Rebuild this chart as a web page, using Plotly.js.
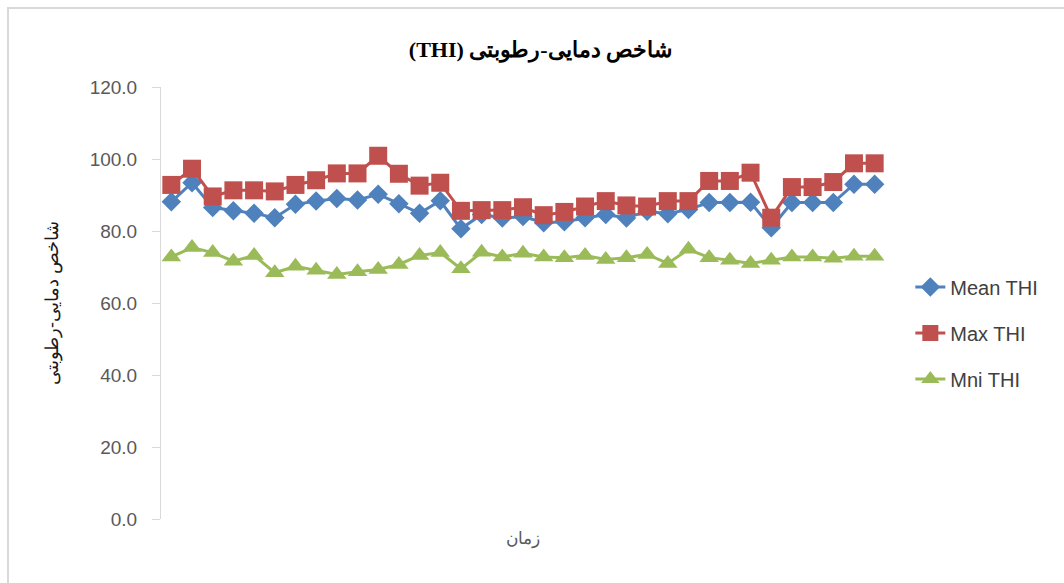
<!DOCTYPE html>
<html>
<head>
<meta charset="utf-8">
<script src="https://cdn.plot.ly/plotly-3.0.1.min.js"></script>
<style>
html,body{margin:0;padding:0;background:#fff;}
#wrap{position:relative;width:1064px;height:583px;overflow:hidden;}
#chart{position:absolute;left:0;top:0;width:1064px;height:583px;}
#frame{position:absolute;left:7px;top:7px;width:1200px;height:700px;border:2px solid #d9d9d9;box-sizing:border-box;pointer-events:none;}
</style>
</head>
<body>
<div id="wrap"><div id="chart"></div><div id="frame"></div></div>
<script>
const days = ["1","2","3","4","5","6","7","8","9","10","11","12","13","14","15","16","17","18","19","20","21","22","23","24","25","26","27","28","29","30","31","32","33","34","35"];
const meanTHI = [88.1, 93.4, 86.5, 85.6, 84.9, 83.7, 87.4, 88.3, 89.0, 88.6, 90.2, 87.6, 84.9, 88.4, 80.6, 84.6, 83.6, 84.0, 82.3, 82.6, 83.7, 84.6, 83.6, 85.5, 84.8, 86.0, 87.9, 87.9, 88.0, 80.9, 87.9, 87.9, 87.9, 93.0, 93.0];
const maxTHI = [92.8, 97.3, 89.6, 91.3, 91.3, 91.0, 92.8, 94.1, 96.0, 96.0, 100.9, 95.9, 92.6, 93.4, 85.6, 85.8, 85.8, 86.6, 84.4, 85.3, 86.8, 88.3, 87.1, 86.8, 88.3, 88.3, 93.9, 93.9, 96.2, 83.7, 92.2, 92.2, 93.6, 98.8, 98.8];
const minTHI = [72.8, 75.4, 74.0, 71.6, 73.2, 68.4, 70.2, 69.1, 67.9, 68.7, 69.3, 70.7, 73.2, 74.0, 69.5, 74.1, 72.8, 73.8, 72.8, 72.6, 73.2, 72.1, 72.6, 73.5, 71.0, 74.9, 72.6, 71.9, 71.0, 71.9, 72.8, 72.8, 72.4, 73.0, 73.0];
const seriesNames = ["Mean THI", "Max THI", "Mni THI"];
const titleText = "(THI) شاخص دمایی-رطوبتی";
const yTitle = "شاخص دمایی-رطوبتی";
const xTitle = "زمان";

const traces = [
  {x: days, y: meanTHI, name: seriesNames[0], legendgroup: "a", type: "scatter", mode: "lines+markers",
   line: {color: "#4f81bd", width: 3}, marker: {symbol: "diamond", size: 15, color: "#4f81bd"}},
  {x: days, y: maxTHI, name: seriesNames[1], legendgroup: "b", type: "scatter", mode: "lines+markers",
   line: {color: "#c0504d", width: 3}, marker: {symbol: "square", size: 18, color: "#c0504d"}},
  {x: days, y: minTHI, name: seriesNames[2], legendgroup: "c", type: "scatter", mode: "lines+markers",
   line: {color: "#9bbb59", width: 3}, marker: {symbol: "triangle-up", size: 17, color: "#9bbb59"}}
];

const layout = {
  width: 1064, height: 583,
  margin: {l: 161, r: 178.5, t: 87, b: 64},
  paper_bgcolor: "rgba(0,0,0,0)", plot_bgcolor: "rgba(0,0,0,0)",
  font: {family: "Liberation Sans, Arial, sans-serif", color: "#595959"},
  title: {text: titleText, x: 0.508, xanchor: "center", y: 0.915, yanchor: "middle",
          font: {family: "Liberation Serif, Times New Roman, serif", size: 22, color: "#000000", weight: "bold"}},
  xaxis: {type: "category", range: [-0.5, 34.5], showticklabels: false, showline: false, showgrid: false,
          zeroline: false, ticks: "",
          title: {text: xTitle, standoff: 13, font: {size: 17, color: "#595959"}}},
  yaxis: {range: [0, 120], dtick: 20, tick0: 0, tickformat: ".1f", showgrid: false, zeroline: false,
          showline: true, linecolor: "#d9d9d9", linewidth: 1, ticks: "outside", ticklen: 8, tickcolor: "#d9d9d9",
          ticklabelstandoff: 11,
          tickfont: {size: 19, color: "#595959"},
          title: {text: yTitle, standoff: 26, font: {size: 18, color: "#1a1a1a"}}},
  legend: {x: 1.035, xanchor: "left", y: 0.4306, yanchor: "middle", traceorder: "grouped", tracegroupgap: 17,
           font: {size: 20, color: "#404040"}, bgcolor: "rgba(0,0,0,0)"},
  showlegend: true
};

Plotly.newPlot("chart", traces, layout, {displayModeBar: false, staticPlot: true});
</script>
</body>
</html>
